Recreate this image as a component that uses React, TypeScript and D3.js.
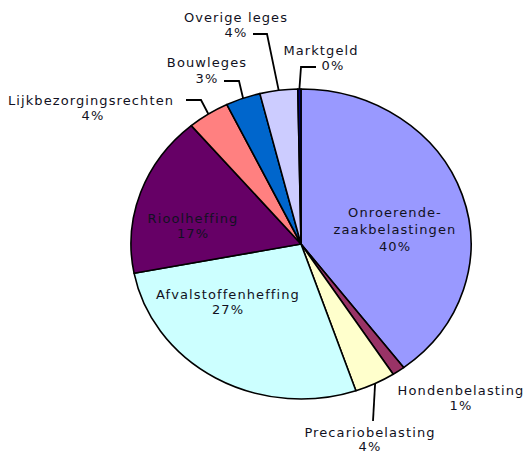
import * as d3 from "d3"
import { useEffect, useRef } from "react"

// slice data, clockwise from 12 o'clock
const categories = [
  "Onroerende-zaakbelastingen",
  "Hondenbelasting",
  "Precariobelasting",
  "Afvalstoffenheffing",
  "Rioolheffing",
  "Lijkbezorgingsrechten",
  "Bouwleges",
  "Overige leges",
  "Marktgeld",
]
const values = [39.8, 1.2, 3.9, 27.3, 16.9, 4.0, 3.3, 3.6, 0.3]
const labelLines = [
  ["Onroerende-", "zaakbelastingen"],
  ["Hondenbelasting"],
  ["Precariobelasting"],
  ["Afvalstoffenheffing"],
  ["Rioolheffing"],
  ["Lijkbezorgingsrechten"],
  ["Bouwleges"],
  ["Overige leges"],
  ["Marktgeld"],
]
const colors = [
  "#9999ff",
  "#993366",
  "#ffffcc",
  "#ccffff",
  "#660066",
  "#ff8080",
  "#0066cc",
  "#ccccff",
  "#000080",
]

// label placement (layout only): x, first baseline, line gap, leader elbow
type Layout = {
  x: number
  y: number
  gap: number
  pctX?: number
  leader?: [number, number][]
}
const layout: Record<string, Layout> = {
  "Onroerende-zaakbelastingen": { x: 395, y: 217, gap: 17 },
  Hondenbelasting: { x: 461, y: 395, gap: 15 },
  Precariobelasting: { x: 370, y: 437, gap: 14, leader: [[373, 421]] },
  Afvalstoffenheffing: { x: 228, y: 299, gap: 15 },
  Rioolheffing: { x: 193, y: 223, gap: 15 },
  Lijkbezorgingsrechten: { x: 91, y: 105, gap: 15, pctX: 93, leader: [[186, 100], [201, 100]] },
  Bouwleges: { x: 207, y: 67, gap: 16, leader: [[224, 81], [239, 81]] },
  "Overige leges": { x: 236, y: 22, gap: 15, leader: [[253, 34], [267, 34]] },
  Marktgeld: { x: 321, y: 55, gap: 15, pctX: 333, leader: [[316, 67], [301, 67]] },
}

const W = 526
const H = 454

export default function App() {
  const svgRef = useRef<SVGSVGElement | null>(null)

  useEffect(() => {
    if (!svgRef.current) return
    const svg = d3.select(svgRef.current)
    svg.selectAll("*").remove()

    const cx = 301
    const cy = 244
    const rx = 170
    const ry = 155

    const pie = d3
      .pie<number>()
      .sort(null)
      .value((d) => d)
    const arcs = pie(values)
    const total = d3.sum(values)

    const arc = d3.arc<d3.PieArcDatum<number>>().innerRadius(0).outerRadius(ry)

    // pie is an ellipse: scale circle horizontally
    const g = svg
      .append("g")
      .attr("transform", `translate(${cx},${cy}) scale(${rx / ry},1)`)

    g.selectAll("path")
      .data(arcs)
      .enter()
      .append("path")
      .attr("d", arc)
      .attr("fill", (d, i) => colors[i])
      .attr("stroke", "#000")
      .attr("stroke-width", 1.6)
      .attr("stroke-linejoin", "round")
      .attr("vector-effect", "non-scaling-stroke")

    const edgePoint = (a: d3.PieArcDatum<number>): [number, number] => {
      const m = (a.startAngle + a.endAngle) / 2
      return [cx + rx * Math.sin(m), cy - ry * Math.cos(m)]
    }

    const pct = (v: number) => `${Math.round((v / total) * 100)}%`

    const labels = svg
      .append("g")
      .style("font", "13px 'DejaVu Sans', Verdana, sans-serif")
      .style("letter-spacing", "1.1px")
      .attr("fill", "#111122")

    arcs.forEach((a, i) => {
      const lay = layout[categories[i]]
      if (lay.leader) {
        const pts = [...lay.leader, edgePoint(a)]
        svg
          .append("path")
          .attr("d", d3.line()(pts))
          .attr("fill", "none")
          .attr("stroke", "#000")
          .attr("stroke-width", 1.8)
      }
      const lines = [...labelLines[i], pct(a.data)]
      lines.forEach((t, j) => {
        const isPct = j === lines.length - 1
        labels
          .append("text")
          .attr("x", isPct && lay.pctX ? lay.pctX : lay.x)
          .attr("y", lay.y + j * lay.gap)
          .attr("text-anchor", "middle")
          .text(t)
      })
    })
  }, [])

  return (
    <div style={{ position: "fixed", left: 0, top: 0 }}>
      <svg ref={svgRef} width={W} height={H} style={{ display: "block", background: "#fff" }} />
    </div>
  )
}
